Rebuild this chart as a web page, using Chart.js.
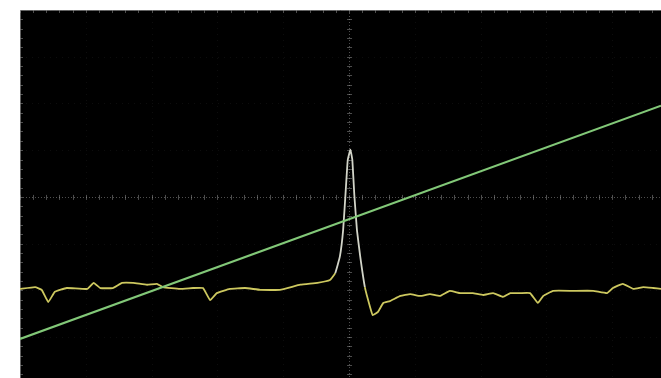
<!DOCTYPE html>
<html>
<head>
<meta charset="utf-8">
<script src="https://cdn.jsdelivr.net/npm/chart.js@4.4.1/dist/chart.umd.min.js"></script>
<style>
  html, body { margin: 0; padding: 0; background: #fff; }
  #wrap { position: absolute; left: 20px; top: 10px; width: 641px; height: 368px; background: #000; }
</style>
</head>
<body>
<div id="wrap"><canvas id="scope"></canvas></div>
<script>
// trace data, in screen divisions (0,0 = centre of the graticule)
const ch1X = [-5.00, -4.77, -4.67, -4.57, -4.47, -4.29, -3.98, -3.88, -3.78, -3.59,
  -3.45, -3.28, -3.07, -2.92, -2.83, -2.57, -2.37, -2.22, -2.11, -2.01,
  -1.81, -1.58, -1.35, -1.05, -0.74, -0.48, -0.29, -0.21, -0.14, -0.09,
  -0.05, -0.02, 0.02, 0.05, 0.08, 0.12, 0.17, 0.24, 0.32, 0.36,
  0.44, 0.52, 0.62, 0.78, 0.93, 1.08, 1.23, 1.38, 1.53, 1.69,
  1.88, 2.04, 2.19, 2.34, 2.45, 2.60, 2.75, 2.87, 2.95, 3.10,
  3.40, 3.71, 3.92, 4.01, 4.16, 4.32, 4.47, 4.62, 4.74]
const ch1Y = [-1.97, -1.93, -1.99, -2.25, -2.03, -1.95, -1.97, -1.84, -1.95, -1.95,
  -1.84, -1.84, -1.88, -1.86, -1.93, -1.97, -1.95, -1.95, -2.21, -2.06,
  -1.97, -1.95, -1.99, -1.99, -1.88, -1.84, -1.78, -1.63, -1.28, -0.71,
  0.15, 0.79, 1.01, 0.79, 0.04, -0.71, -1.28, -1.93, -2.36, -2.53,
  -2.46, -2.27, -2.23, -2.12, -2.08, -2.12, -2.08, -2.12, -2.01, -2.06,
  -2.06, -2.10, -2.06, -2.14, -2.06, -2.06, -2.06, -2.27, -2.12, -2.01,
  -2.01, -2.01, -2.06, -1.95, -1.86, -1.97, -1.93, -1.95, -1.97]

const ch2X = [-5.00, 4.74]
const ch2Y = [-3.04, 1.95]

const xMin = -5.00, xMax = 4.74
const yMin = -3.876, yMax = 4.0

const toPoints = (xs, ys) => xs.map((x, i) => ({ x, y: ys[i] }))

// graticule: dotted centre lines with minor ticks, faint division dots
const graticule = {
  id: 'graticule',
  beforeDatasetsDraw(chart) {
    const { ctx, chartArea: a, scales: { x, y } } = chart
    const cx = x.getPixelForValue(0)
    const cy = y.getPixelForValue(0)
    ctx.save()

    // faint division dots
    ctx.fillStyle = 'rgba(110,110,110,0.12)'
    for (let i = Math.ceil(xMin); i <= xMax; i++) {
      const px = Math.round(x.getPixelForValue(i))
      for (let py = a.top; py < a.bottom; py += 6) ctx.fillRect(px, py, 1, 1)
    }
    for (let j = Math.ceil(yMin); j <= yMax; j++) {
      const py = Math.round(y.getPixelForValue(j))
      for (let px = a.left; px < a.right; px += 6) ctx.fillRect(px, py, 1, 1)
    }

    // centre lines
    ctx.strokeStyle = 'rgba(150,150,150,0.5)'
    ctx.lineWidth = 1
    ctx.setLineDash([1, 2])
    ctx.beginPath()
    ctx.moveTo(Math.round(cx) + 0.5, a.top)
    ctx.lineTo(Math.round(cx) + 0.5, a.bottom)
    ctx.moveTo(a.left, Math.round(cy) + 0.5)
    ctx.lineTo(a.right, Math.round(cy) + 0.5)
    ctx.stroke()
    ctx.setLineDash([])

    // minor ticks along centre lines and edges
    ctx.strokeStyle = 'rgba(170,170,170,0.45)'
    ctx.beginPath()
    for (let v = Math.ceil(xMin * 5) / 5; v <= xMax; v += 0.2) {
      const px = Math.round(x.getPixelForValue(v)) + 0.5
      ctx.moveTo(px, cy - 2); ctx.lineTo(px, cy + 3)
      ctx.moveTo(px, a.top); ctx.lineTo(px, a.top + 3)
    }
    for (let v = Math.ceil(yMin * 5) / 5; v <= yMax; v += 0.2) {
      const py = Math.round(y.getPixelForValue(v)) + 0.5
      ctx.moveTo(cx - 2, py); ctx.lineTo(cx + 3, py)
      ctx.moveTo(a.left, py); ctx.lineTo(a.left + 3, py)
    }
    ctx.stroke()

    // frame edges
    ctx.strokeStyle = 'rgba(140,140,140,0.7)'
    ctx.beginPath()
    ctx.moveTo(a.left + 0.5, a.top); ctx.lineTo(a.left + 0.5, a.bottom)
    ctx.moveTo(a.left, a.top + 0.5); ctx.lineTo(a.right, a.top + 0.5)
    ctx.stroke()
    ctx.restore()
  }
}

const chart = new Chart(document.querySelector('#scope'), {
  type: 'line',
  data: {
    datasets: [
      {
        label: 'CH2',
        data: toPoints(ch2X, ch2Y),
        borderColor: 'rgb(130,200,120)',
        borderWidth: 2,
        pointRadius: 0,
        tension: 0
      },
      {
        label: 'CH1',
        data: toPoints(ch1X, ch1Y),
        borderColor: 'rgb(205,200,95)',
        borderWidth: 1.8,
        pointRadius: 0,
        tension: 0.1,
        segment: {
          borderColor: c => (c.p0.parsed.y > -1.5 || c.p1.parsed.y > -1.5) ? 'rgb(210,212,200)' : undefined
        }
      }
    ]
  },
  options: {
    responsive: true,
    maintainAspectRatio: false,
    animation: false,
    layout: { padding: 0 },
    plugins: { legend: { display: false }, tooltip: { enabled: false } },
    scales: {
      x: { type: 'linear', min: xMin, max: xMax, display: false },
      y: { type: 'linear', min: yMin, max: yMax, display: false }
    }
  },
  plugins: [graticule]
})
</script>
</body>
</html>
